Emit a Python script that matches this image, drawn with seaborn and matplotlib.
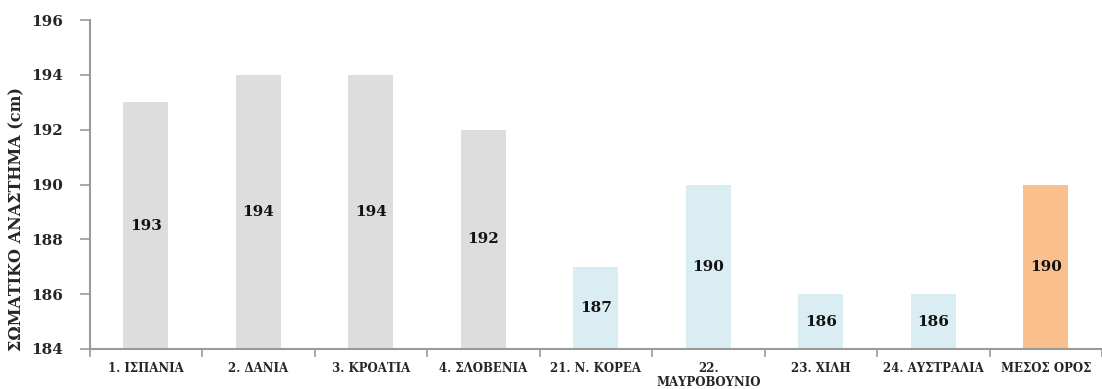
import matplotlib
matplotlib.use("Agg")
import matplotlib.pyplot as plt
import seaborn as sns
import numpy as np

# Team heights (cm) by country, with the overall average
countries = ["1. ΙΣΠΑΝΙΑ", "2. ΔΑΝΙΑ", "3. ΚΡΟΑΤΙΑ", "4. ΣΛΟΒΕΝΙΑ",
             "21. Ν. ΚΟΡΕΑ", "22.\nΜΑΥΡΟΒΟΥΝΙΟ", "23. ΧΙΛΗ", "24. ΑΥΣΤΡΑΛΙΑ",
             "ΜΕΣΟΣ ΟΡΟΣ"]
heights = [193, 194, 194, 192, 187, 190, 186, 186, 190]
bar_colors = ["#DDDDDD"] * 4 + ["#DAEDF3"] * 4 + ["#F9C08E"]
y_ticks = [184, 186, 188, 190, 192, 194, 196]

sns.set_style("white")
plt.rcParams["font.family"] = ["DejaVu Serif"]

fig = plt.figure(figsize=(11.02, 3.89), dpi=100)
ax_w = 1102 - 89.5
ax = fig.add_axes([89.5 / 1102, 1 - 349 / 389, ax_w / 1102, (349 - 20) / 389])

sns.barplot(x=countries, y=heights, hue=countries, palette=bar_colors,
            width=0.4, legend=False, ax=ax, saturation=1, linewidth=0)

ax.set_ylim(184, 196)
ax.set_yticks(y_ticks)
ax.set_yticklabels([str(t) for t in y_ticks], fontsize=11, fontweight="bold")
ax.set_xlim(-0.5, 8.5 - 13 / 114)

# value labels centred within each visible bar
for i, v in enumerate(heights):
    ax.text(i, (184 + v) / 2, str(v), ha="center", va="center",
            fontsize=11, fontweight="bold", color="#111111")

ax.set_xticks(range(len(countries)))
ax.set_xticklabels(countries, fontsize=8.5, fontweight="bold", va="top",
                   linespacing=1.15)
ax.set_xticks(np.arange(-0.5, len(countries), 1.0), minor=True)
ax.tick_params(axis="x", which="major", length=0, pad=9)
ax.tick_params(axis="x", which="minor", length=6, width=1.2, color="#9A9A9A",
               direction="out", bottom=True)
ax.tick_params(axis="y", which="major", length=7, width=1.2, color="#9A9A9A",
               direction="out", left=True, pad=12)

ax.set_ylabel("ΣΩΜΑΤΙΚΟ ΑΝΑΣΤΗΜΑ (cm)", fontsize=11.5, fontweight="bold")
ax.yaxis.set_label_coords((25 - 89.5) / ax_w, (349 - 219) / 329)

for side in ["top", "right"]:
    ax.spines[side].set_visible(False)
for side in ["left", "bottom"]:
    ax.spines[side].set_color("#9A9A9A")
    ax.spines[side].set_linewidth(1.5)

fig.savefig("out.png", dpi=100)
